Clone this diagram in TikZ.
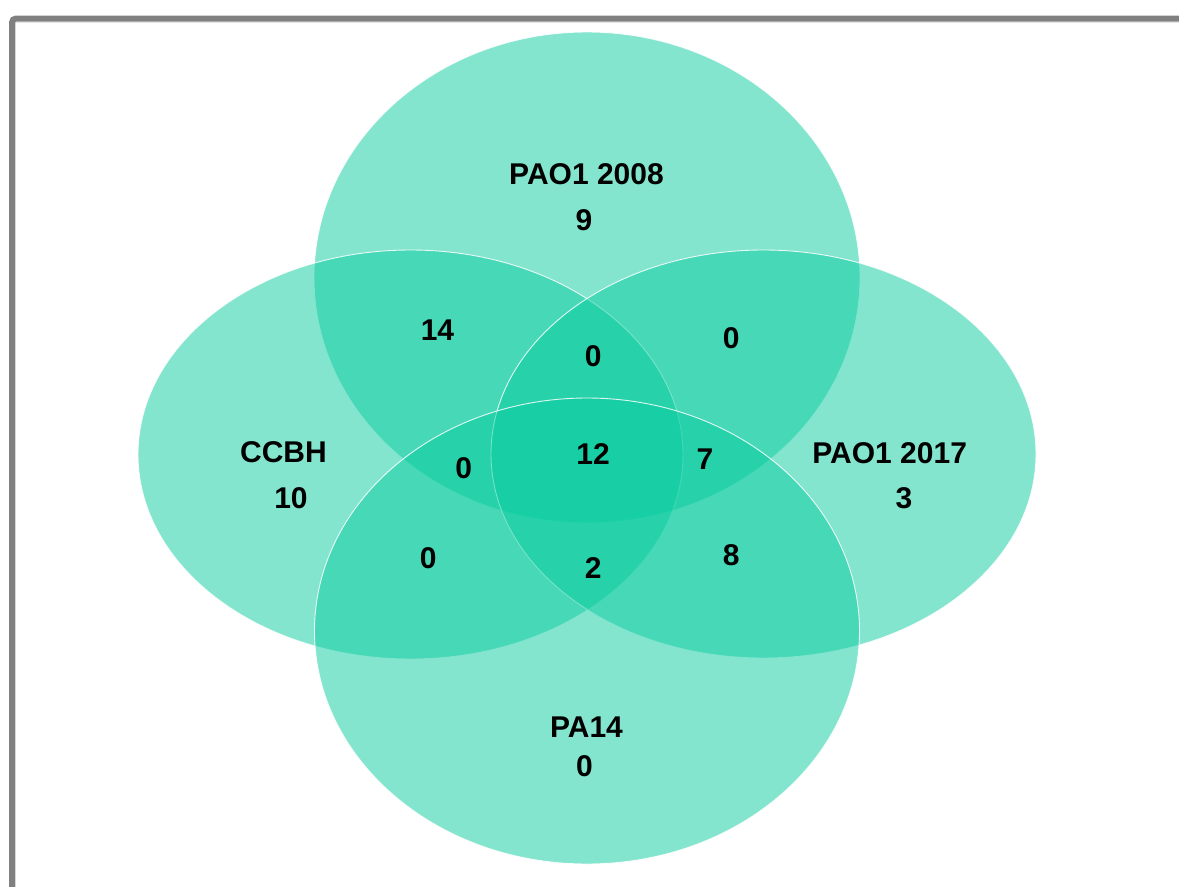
\documentclass[tikz,border=0pt]{standalone}
\usepackage{fontspec}
\setmainfont{Liberation Sans}
\definecolor{vgreen}{RGB}{10,205,160}
\definecolor{framegray}{RGB}{128,128,128}
\begin{document}
\begin{tikzpicture}[x=1bp,y=-1bp,
  setfill/.style={fill=vgreen, fill opacity=0.5, draw=white, draw opacity=0.85, line width=0.9bp},
  lbl/.style={font=\fontsize{30bp}{36bp}\selectfont\bfseries, text=black, anchor=base, inner sep=0pt}]
\useasboundingbox (0,0) rectangle (1179,887);
\clip (0,0) rectangle (1179,887);
\fill[white] (0,0) rectangle (1179,887);
% frame
\draw[black!10, line width=1bp] (1200,22.5) -- (15.5,22.5) -- (15.5,910);
\draw[framegray, line width=6bp, rounded corners=4bp] (1200,18.5) -- (12,18.5) -- (12,910);
% sets
\path[setfill] (587,277.5) ellipse [x radius=273, y radius=245.5];
\path[setfill] (410.5,454.5) ellipse [x radius=272.5, y radius=204.5];
\path[setfill] (763.5,454) ellipse [x radius=272.5, y radius=204];
\path[setfill] (587,631) ellipse [x radius=272.5, y radius=233];
% set names and counts
\node[lbl] (nT) at (586.5,184) {PAO1 2008};
\node[lbl] (cT) at (584,230.7) {9};
\node[lbl] (nL) at (283.5,462.5) {CCBH};
\node[lbl] (cL) at (291,508) {10};
\node[lbl] (nR) at (889.7,463) {PAO1 2017};
\node[lbl] (cR) at (904,508) {3};
\node[lbl] (nB) at (586.5,737.7) {PA14};
\node[lbl] (cB) at (584.5,776.7) {0};
% intersections
\node[lbl] (iTL) at (437.5,340.7) {14};
\node[lbl] (iTLR) at (593.2,366.7) {0};
\node[lbl] (iTR) at (731.3,348.3) {0};
\node[lbl] (iTLB) at (463.8,478) {0};
\node[lbl] (iAll) at (593,464) {12};
\node[lbl] (iTRB) at (705,469) {7};
\node[lbl] (iLB) at (428.3,568) {0};
\node[lbl] (iLRB) at (593.3,578) {2};
\node[lbl] (iRB) at (731.3,565) {8};
\end{tikzpicture}
\end{document}
